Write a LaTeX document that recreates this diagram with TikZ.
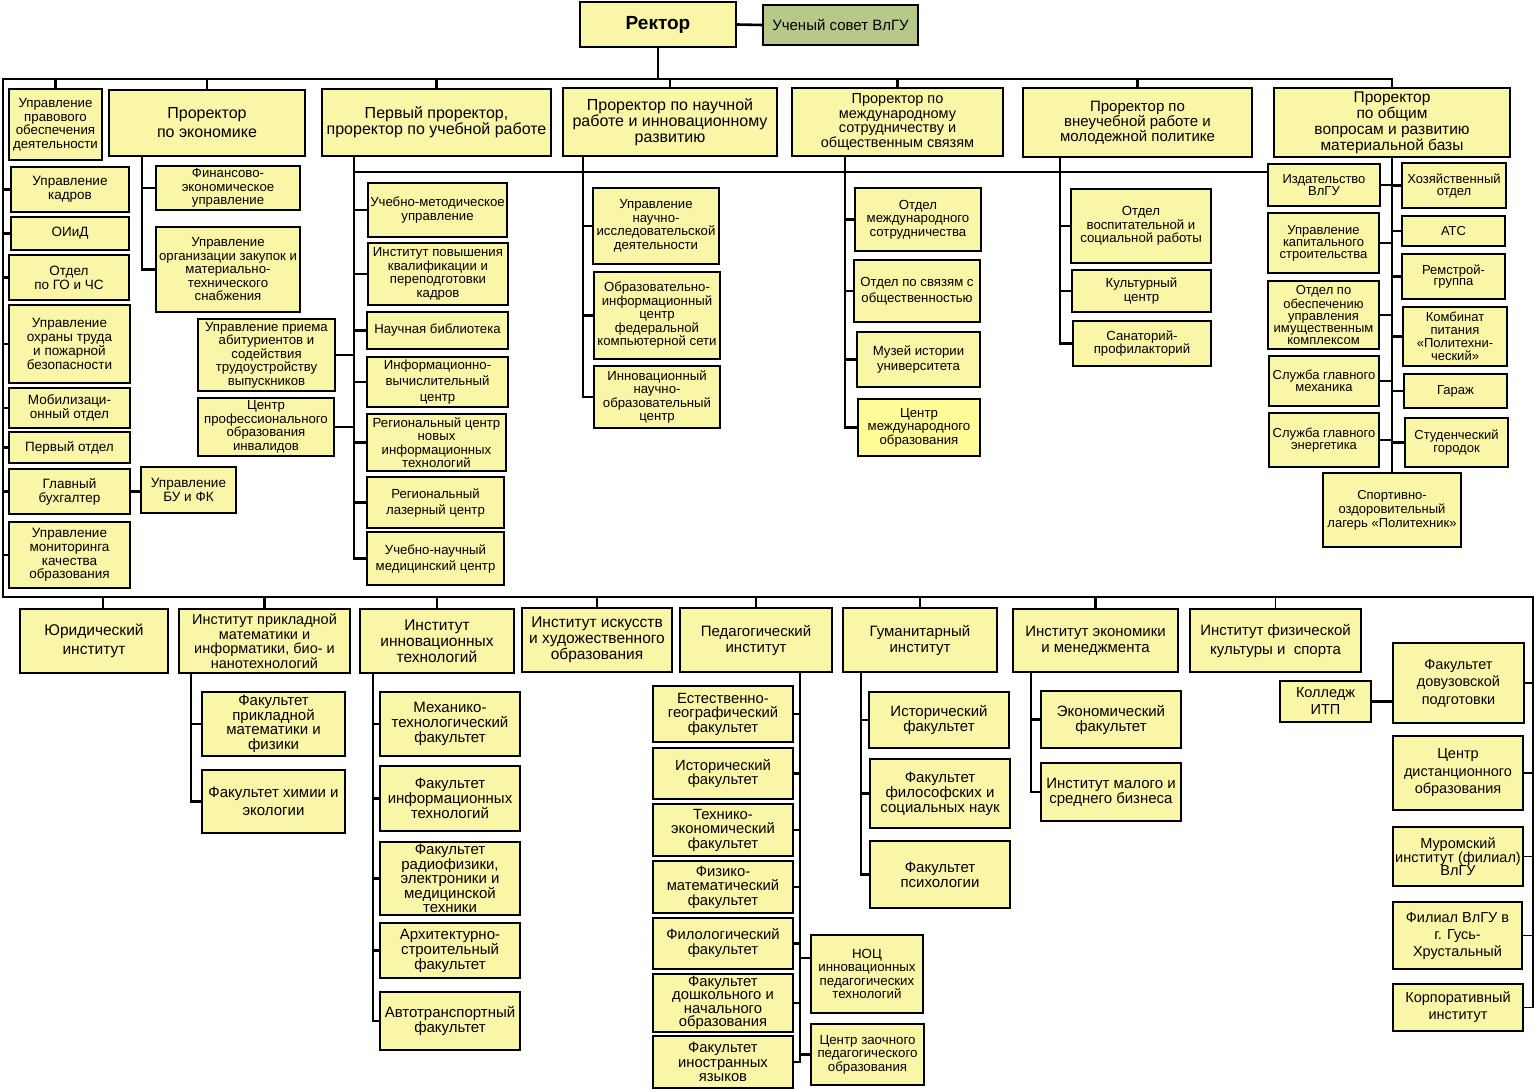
\documentclass[tikz,border=0pt]{standalone}
\usepackage{fontspec}
\setmainfont{Liberation Sans}
\usetikzlibrary{backgrounds}
\definecolor{by}{RGB}{250,246,168}
\definecolor{by2}{RGB}{255,251,150}
\definecolor{sgreen}{RGB}{183,201,138}
\newcommand\fs[2]{\fontsize{#1pt}{#2pt}\selectfont}
\newcommand\bx[7][]{\pgfmathsetmacro\bxw{#5-#3}\pgfmathsetmacro\bxh{#6-#4}\pgfmathsetmacro\bxx{(#3+#5)/2}\pgfmathsetmacro\bxy{(#4+#6)/2}\node[box,minimum width=\bxw pt,minimum height=\bxh pt,#1] (#2) at (\bxx,\bxy) {#7};}
\tikzset{
  box/.style={draw=black,line width=2.3pt,fill=by,align=center,inner sep=0.5pt,font=\fs{13.2}{13.5}},
  ln/.style={line width=2.6pt,line cap=rect,line join=miter}
}
\begin{document}
\begin{tikzpicture}[x=1pt,y=-1pt]
\useasboundingbox (0,0) rectangle (1535,1090);
% top
\bx[font=\fs{19}{19}\bfseries]{rector}{580}{2}{736}{47}{Ректор}
\bx[fill=sgreen,font=\fs{15}{15}]{sovet}{763}{5}{918}{45}{Ученый совет ВлГУ}
% prorectors
\bx[font=\fs{13.3}{13.5}]{pravo}{9}{89}{102}{160}{Управление\\правового\\обеспечения\\деятельности}
\bx[font=\fs{16}{19}]{econ}{109}{90}{305}{156}{Проректор\\по экономике}
\bx[font=\fs{16}{16}]{first}{322}{89}{551}{156}{Первый проректор,\\проректор по учебной работе}
\bx[font=\fs{16}{16}]{nauch}{563}{88}{777}{156}{Проректор по научной\\работе и инновационному\\развитию}
\bx[font=\fs{14.5}{14.5}]{mezh}{792}{88}{1003}{156}{Проректор по\\международному\\сотрудничеству и\\общественным связям}
\bx[font=\fs{15}{15}]{vneuch}{1023}{88}{1252}{157}{Проректор по\\внеучебной работе и\\молодежной политике}
\bx[font=\fs{15.5}{16}]{obsh}{1274}{88}{1510}{157}{Проректор\\по общим\\вопросам и развитию\\материальной базы}
% left column
\bx[font=\fs{13.5}{14}]{kadr}{11}{167}{129}{212}{Управление\\кадров}
\bx[font=\fs{13.5}{14}]{oiid}{11}{217}{129}{250}{ОИиД}
\bx[font=\fs{13.5}{14}]{go}{9}{255}{129}{300}{Отдел\\по ГО и ЧС}
\bx[font=\fs{13.5}{13.8}]{ohr}{9}{305}{130}{383}{Управление\\охраны труда\\и пожарной\\безопасности}
\bx[font=\fs{13.5}{11}]{mob}{9}{388}{130}{428}{Мобилизаци-\\онный отдел}
\bx[font=\fs{13.5}{14}]{perv}{9}{432}{130}{463}{Первый отдел}
\bx[font=\fs{13.5}{14}]{buh}{9}{469}{130}{514}{Главный\\бухгалтер}
\bx[font=\fs{13.5}{14}]{bufk}{141}{467}{236}{513}{Управление\\БУ и ФК}
\bx[font=\fs{13.5}{13.8}]{monit}{9}{522}{130}{588}{Управление\\мониторинга\\качества\\образования}
% economy
\bx{fin}{156}{166}{300}{210}{Финансово-\\экономическое\\управление}
\bx[font=\fs{13.2}{13.5}]{zak}{156}{227}{300}{312}{Управление\\организации закупок и\\материально-\\технического\\снабжения}
% first prorector
\bx{um}{368}{183}{507}{237}{Учебно-методическое\\управление}
\bx{ipk}{368}{243}{508}{305}{Институт повышения\\квалификации и\\переподготовки\\кадров}
\bx{lib}{367}{312}{508}{349}{Научная библиотека}
\bx[font=\fs{13.2}{16}]{ivc}{367}{357}{508}{407}{Информационно-\\вычислительный\\центр}
\bx{rcnit}{367}{414}{506}{471}{Региональный центр\\новых\\информационных\\технологий}
\bx[font=\fs{13.2}{16}]{laser}{367}{477}{504}{528}{Региональный\\лазерный центр}
\bx[font=\fs{13.2}{16}]{med}{367}{532}{504}{585}{Учебно-научный\\медицинский центр}
\bx{priem}{198}{319}{335}{391}{Управление приема\\абитуриентов и\\содействия\\трудоустройству\\выпускников}
\bx{cpoi}{198}{398}{334}{456}{Центр\\профессионального\\образования\\инвалидов}
% science
\bx{nid}{593}{188}{719}{264}{Управление\\научно-\\исследовательской\\деятельности}
\bx{oic}{594}{272}{720}{359}{Образовательно-\\информационный\\центр\\федеральной\\компьютерной сети}
\bx{innc}{594}{366}{720}{428}{Инновационный\\научно-\\образовательный\\центр}
% international
\bx{oms}{855}{188}{981}{251}{Отдел\\международного\\сотрудничества}
\bx[font=\fs{13.2}{16}]{osv}{854}{260}{980}{322}{Отдел по связям с\\общественностью}
\bx[font=\fs{13.2}{15}]{muz}{857}{332}{980}{387}{Музей истории\\университета}
\bx[fill=by2]{cmo}{858}{399}{980}{456}{Центр\\международного\\образования}
% extracurricular
\bx{ovsr}{1071}{189}{1211}{263}{Отдел\\воспитательной и\\социальной работы}
\bx{kc}{1072}{270}{1211}{312}{Культурный\\центр}
\bx{san}{1073}{321}{1211}{366}{Санаторий-\\профилакторий}
% general
\bx[font=\fs{13}{12}]{izd}{1268}{164}{1380}{206}{Издательство\\ВлГУ}
\bx[font=\fs{13}{12}]{hoz}{1402}{163}{1506}{208}{Хозяйственный\\отдел}
\bx[font=\fs{13}{12}]{uks}{1268}{213}{1379}{273}{Управление\\капитального\\строительства}
\bx[font=\fs{13}{12}]{ats}{1402}{216}{1505}{246}{АТС}
\bx[font=\fs{13}{11}]{rem}{1402}{254}{1505}{299}{Ремстрой-\\группа}
\bx[font=\fs{13}{12}]{ooui}{1268}{281}{1379}{349}{Отдел по\\обеспечению\\управления\\имущественным\\комплексом}
\bx[font=\fs{13}{13}]{komb}{1403}{307}{1507}{366}{Комбинат\\питания\\«Политехни-\\ческий»}
\bx[font=\fs{13}{12}]{sgm}{1269}{356}{1379}{406}{Служба главного\\механика}
\bx[font=\fs{13}{12}]{garage}{1404}{374}{1507}{408}{Гараж}
\bx[font=\fs{13}{12}]{sge}{1269}{413}{1379}{467}{Служба главного\\энергетика}
\bx[font=\fs{13}{13}]{stg}{1405}{418}{1508}{467}{Студенческий\\городок}
\bx[font=\fs{13}{14}]{spl}{1323}{473}{1461}{547}{Спортивно-\\оздоровительный\\лагерь «Политехник»}
% institutes
\bx[font=\fs{15.5}{19}]{jur}{20}{609}{168}{673}{Юридический\\институт}
\bx[font=\fs{14.5}{14.5}]{ipm}{179}{609}{350}{673}{Институт прикладной\\математики и\\информатики, био- и\\нанотехнологий}
\bx[font=\fs{15.5}{16}]{iit}{360}{609}{514}{673}{Институт\\инновационных\\технологий}
\bx[font=\fs{15.5}{16}]{iiho}{522}{608}{672}{672}{Институт искусств\\и художественного\\образования}
\bx[font=\fs{15}{16}]{ped}{680}{608}{832}{672}{Педагогический\\институт}
\bx[font=\fs{15}{16}]{gum}{843}{608}{997}{672}{Гуманитарный\\институт}
\bx[font=\fs{15}{16}]{iem}{1013}{609}{1178}{672}{Институт экономики\\и менеджмента}
\bx[font=\fs{15}{19}]{ifks}{1190}{609}{1361}{672}{Институт физической\\культуры и~~спорта}
% faculties
\bx[font=\fs{15}{14.5}]{fpmf}{202}{692}{345}{756}{Факультет\\прикладной\\математики и\\физики}
\bx[font=\fs{15}{18}]{fhe}{202}{770}{345}{833}{Факультет химии и\\экологии}
\bx[font=\fs{15}{15}]{mtf}{380}{692}{520}{756}{Механико-\\технологический\\факультет}
\bx[font=\fs{15}{15}]{fit}{380}{766}{520}{831}{Факультет\\информационных\\технологий}
\bx[font=\fs{15}{14.5}]{frem}{380}{842}{520}{915}{Факультет\\радиофизики,\\электроники и\\медицинской\\техники}
\bx[font=\fs{15}{15}]{asf}{380}{923}{520}{978}{Архитектурно-\\строительный\\факультет}
\bx[font=\fs{15}{15}]{atf}{380}{992}{520}{1050}{Автотранспортный\\факультет}
\bx[font=\fs{14.8}{14.5}]{egf}{653}{686}{793}{742}{Естественно-\\географический\\факультет}
\bx[font=\fs{14.8}{14.5}]{istp}{653}{748}{793}{799}{Исторический\\факультет}
\bx[font=\fs{14.8}{14.5}]{tef}{653}{804}{793}{856}{Технико-\\экономический\\факультет}
\bx[font=\fs{14.8}{14.5}]{fmf}{653}{861}{793}{913}{Физико-\\математический\\факультет}
\bx[font=\fs{14.8}{15}]{filf}{653}{918}{793}{969}{Филологический\\факультет}
\bx[font=\fs{14.8}{13.5}]{fdno}{653}{974}{793}{1032}{Факультет\\дошкольного и\\начального\\образования}
\bx[font=\fs{14.8}{14.5}]{fiya}{653}{1036}{793}{1088}{Факультет\\иностранных\\языков}
\bx[font=\fs{13.3}{13.3}]{noc}{811}{935}{923}{1013}{НОЦ\\инновационных\\педагогических\\технологий}
\bx[font=\fs{13.3}{13.3}]{czpo}{811}{1024}{924}{1085}{Центр заочного\\педагогического\\образования}
\bx[font=\fs{15}{15}]{istg}{869}{692}{1009}{748}{Исторический\\факультет}
\bx[font=\fs{15}{15}]{ffsn}{870}{759}{1010}{828}{Факультет\\философских и\\социальных наук}
\bx[font=\fs{15}{15}]{fpsy}{870}{841}{1010}{908}{Факультет\\психологии}
\bx[font=\fs{15}{15}]{ef}{1041}{691}{1181}{748}{Экономический\\факультет}
\bx[font=\fs{15}{15}]{imsb}{1041}{763}{1181}{821}{Институт малого и\\среднего бизнеса}
\bx[font=\fs{14.5}{17}]{kol}{1280}{681}{1371}{722}{Колледж\\ИТП}
\bx[font=\fs{14.5}{17.5}]{fdp}{1393}{643}{1524}{723}{Факультет\\довузовской\\подготовки}
\bx[font=\fs{14.5}{17.5}]{cdo}{1393}{736}{1523}{810}{Центр\\дистанционного\\образования}
\bx[font=\fs{14.5}{13}]{mur}{1393}{827}{1523}{886}{Муромский\\институт (филиал)\\ВлГУ}
\bx[font=\fs{14.5}{17}]{fil}{1393}{902}{1522}{969}{Филиал ВлГУ в\\г. Гусь-\\Хрустальный}
\bx[font=\fs{14.5}{17}]{korp}{1393}{984}{1523}{1031}{Корпоративный\\институт}
% connectors
\coordinate (B1L) at (3,79);
\coordinate (B2L) at (3,597);
\coordinate (B2R) at (1533,597);
\coordinate (EV) at (142,0);
\coordinate (FV) at (354,0);
\coordinate (L2) at (354,172);
\coordinate (NV) at (583,0);
\coordinate (MV) at (845,0);
\coordinate (VV) at (1060,0);
\coordinate (PV) at (191,0);
\coordinate (IV) at (373,0);
\coordinate (PD) at (800,0);
\coordinate (GV) at (861,0);
\coordinate (KV) at (1031,0);
\begin{scope}[on background layer]
\draw[ln] (obsh.north |- B1L) -- (B1L) -- (B2L) -- (ifks.north |- B2L);
\draw[ln,line width=1.9pt] (ifks.north |- B2L) -- (B2R) -- (B2R |- korp.east);
\draw[ln] (rector.south) -- (rector.south |- B1L);
\draw[ln] (rector.east) -- (sovet.west);
\foreach \n in {pravo,econ,first,nauch,mezh,vneuch,obsh}
  \draw[ln] (\n.north) -- (\n.north |- B1L);
\foreach \n in {kadr,oiid,go,ohr,mob,perv,buh,monit}
  \draw[ln] (\n.west) -- (\n.west -| B1L);
\draw[ln] (buh.east) -- (buh.east -| bufk.west);
% economy
\draw[ln] (EV |- econ.south) -- (EV |- zak.west);
\foreach \n in {fin,zak} \draw[ln] (\n.west) -- (\n.west -| EV);
% first
\draw[ln] (FV |- first.south) -- (FV |- med.west);
\foreach \n in {um,ipk,lib,ivc,rcnit,laser,med} \draw[ln] (\n.west) -- (\n.west -| FV);
\foreach \n in {priem,cpoi} \draw[ln] (\n.east) -- (\n.east -| FV);
\draw[ln] (L2) -- (L2 -| izd.west);
% science
\draw[ln] (NV |- nauch.south) -- (NV |- innc.west);
\foreach \n in {nid,oic,innc} \draw[ln] (\n.west) -- (\n.west -| NV);
% international
\draw[ln] (MV |- mezh.south) -- (MV |- cmo.west);
\foreach \n in {oms,osv,muz,cmo} \draw[ln] (\n.west) -- (\n.west -| MV);
% extracurricular
\draw[ln] (VV |- vneuch.south) -- (VV |- san.west);
\foreach \n in {ovsr,kc,san} \draw[ln] (\n.west) -- (\n.west -| VV);
% general
\draw[ln] (obsh.south) -- (spl.north);
\foreach \n in {izd,uks,ooui,sgm,sge} \draw[ln] (\n.east) -- (\n.east -| obsh.south);
\foreach \n in {hoz,ats,rem,komb,garage,stg} \draw[ln] (\n.west) -- (\n.west -| obsh.south);
% institutes
\draw[ln] ([xshift=9pt]jur.north) -- ([xshift=9pt]jur.north |- B2L);
\foreach \n in {ipm,iit,iiho,ped,gum,iem}
  \draw[ln] (\n.north) -- (\n.north |- B2L);
\draw[ln,line width=1.9pt] (ifks.north) -- (ifks.north |- B2L);
\draw[ln] (PV |- ipm.south) -- (PV |- fhe.west);
\foreach \n in {fpmf,fhe} \draw[ln] (\n.west) -- (\n.west -| PV);
\draw[ln] (IV |- iit.south) -- (IV |- atf.west);
\foreach \n in {mtf,fit,frem,asf,atf} \draw[ln] (\n.west) -- (\n.west -| IV);
\draw[ln] (PD |- ped.south) -- (PD |- fiya.east);
\foreach \n in {egf,istp,tef,fmf,filf,fdno,fiya} \draw[ln] (\n.east) -- (\n.east -| PD);
\draw[ln] ([yshift=16pt]noc.west) -- ([yshift=16pt]noc.west -| PD);
\draw[ln] (czpo.west) -- (czpo.west -| PD);
\draw[ln] (GV |- gum.south) -- (GV |- fpsy.west);
\foreach \n in {istg,ffsn,fpsy} \draw[ln] (\n.west) -- (\n.west -| GV);
\draw[ln] (KV |- iem.south) -- (KV |- imsb.west);
\foreach \n in {ef,imsb} \draw[ln] (\n.west) -- (\n.west -| KV);
\draw[ln] (kol.east) -- (kol.east -| fdp.west);
\foreach \n in {fdp,cdo,mur,fil,korp} \draw[ln,line width=1.9pt] (\n.east) -- (\n.east -| B2R);
\end{scope}
\end{tikzpicture}
\end{document}
